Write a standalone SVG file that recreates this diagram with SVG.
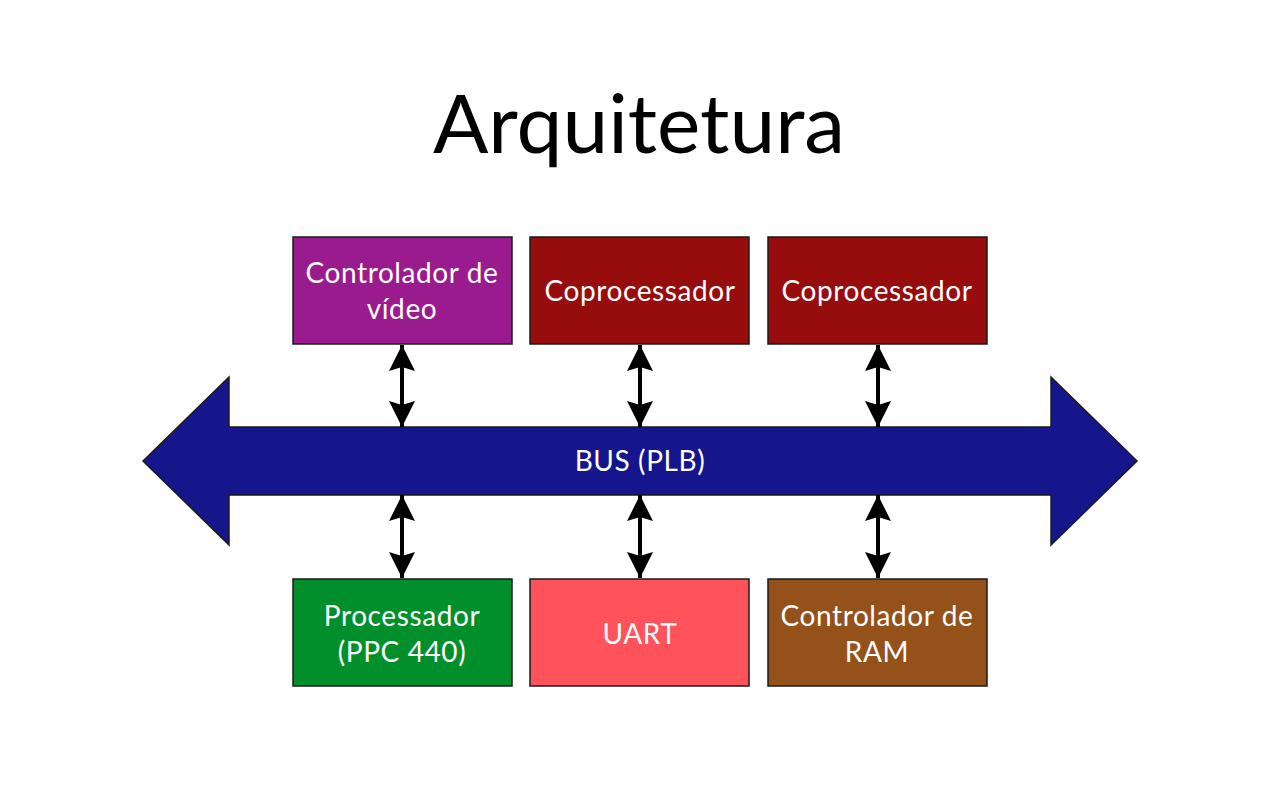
<svg xmlns="http://www.w3.org/2000/svg" width="1280" height="800" viewBox="0 0 1280 800">
<style>
.box{stroke:#1a1a1a;stroke-width:1.5}
.lbl{font-family:Lato,"Open Sans",sans-serif;font-size:28px;letter-spacing:0.6px;fill:#fff;text-anchor:middle}
.title{font-family:Lato,"Open Sans",sans-serif;font-size:82px;fill:#000;text-anchor:middle}
.conn{stroke:#000;stroke-width:4;fill:none;marker-start:url(#ah);marker-end:url(#ah)}
</style>
<defs>
<marker id="ah" viewBox="0 0 10 10" refX="10" refY="5" markerWidth="6.5" markerHeight="6.5" orient="auto-start-reverse" markerUnits="strokeWidth">
<path d="M0,0 L10,5 L0,10 L1.5,5 Z" fill="#000"/>
</marker>
</defs>
<rect width="1280" height="800" fill="#fff"/>
<text class="title" x="639" y="153">Arquitetura</text>
<g id="bus">
<path d="M143,461 L229,377 L229,427 L1051,427 L1051,377 L1137,461 L1051,545 L1051,495 L229,495 L229,545 Z" fill="#15158C" stroke="#1a1a1a" stroke-width="1.5"/>
<text class="lbl" x="640" y="471">BUS (PLB)</text>
</g>
<g id="video">
<rect class="box" x="293" y="237" width="219" height="107" fill="#9A1B8E"/>
<text class="lbl" x="402" y="283">Controlador de</text>
<text class="lbl" x="402" y="319">vídeo</text>
</g>
<g id="coproc1">
<rect class="box" x="530" y="237" width="219" height="107" fill="#970C0C"/>
<text class="lbl" x="640" y="301">Coprocessador</text>
</g>
<g id="coproc2">
<rect class="box" x="768" y="237" width="219" height="107" fill="#970C0C"/>
<text class="lbl" x="877" y="301">Coprocessador</text>
</g>
<g id="proc">
<rect class="box" x="293" y="579" width="219" height="107" fill="#008F2A"/>
<text class="lbl" x="402" y="626">Processador</text>
<text class="lbl" x="402" y="662">(PPC 440)</text>
</g>
<g id="uart">
<rect class="box" x="530" y="579" width="219" height="107" fill="#FF535B"/>
<text class="lbl" x="640" y="644">UART</text>
</g>
<g id="ram">
<rect class="box" x="768" y="579" width="219" height="107" fill="#94511A"/>
<text class="lbl" x="877" y="626">Controlador de</text>
<text class="lbl" x="877" y="662">RAM</text>
</g>
<g id="connectors">
<line class="conn" x1="402" y1="345" x2="402" y2="427"/>
<line class="conn" x1="640" y1="345" x2="640" y2="427"/>
<line class="conn" x1="878" y1="345" x2="878" y2="427"/>
<line class="conn" x1="402" y1="495" x2="402" y2="578"/>
<line class="conn" x1="640" y1="495" x2="640" y2="578"/>
<line class="conn" x1="878" y1="495" x2="878" y2="578"/>
</g>
</svg>
